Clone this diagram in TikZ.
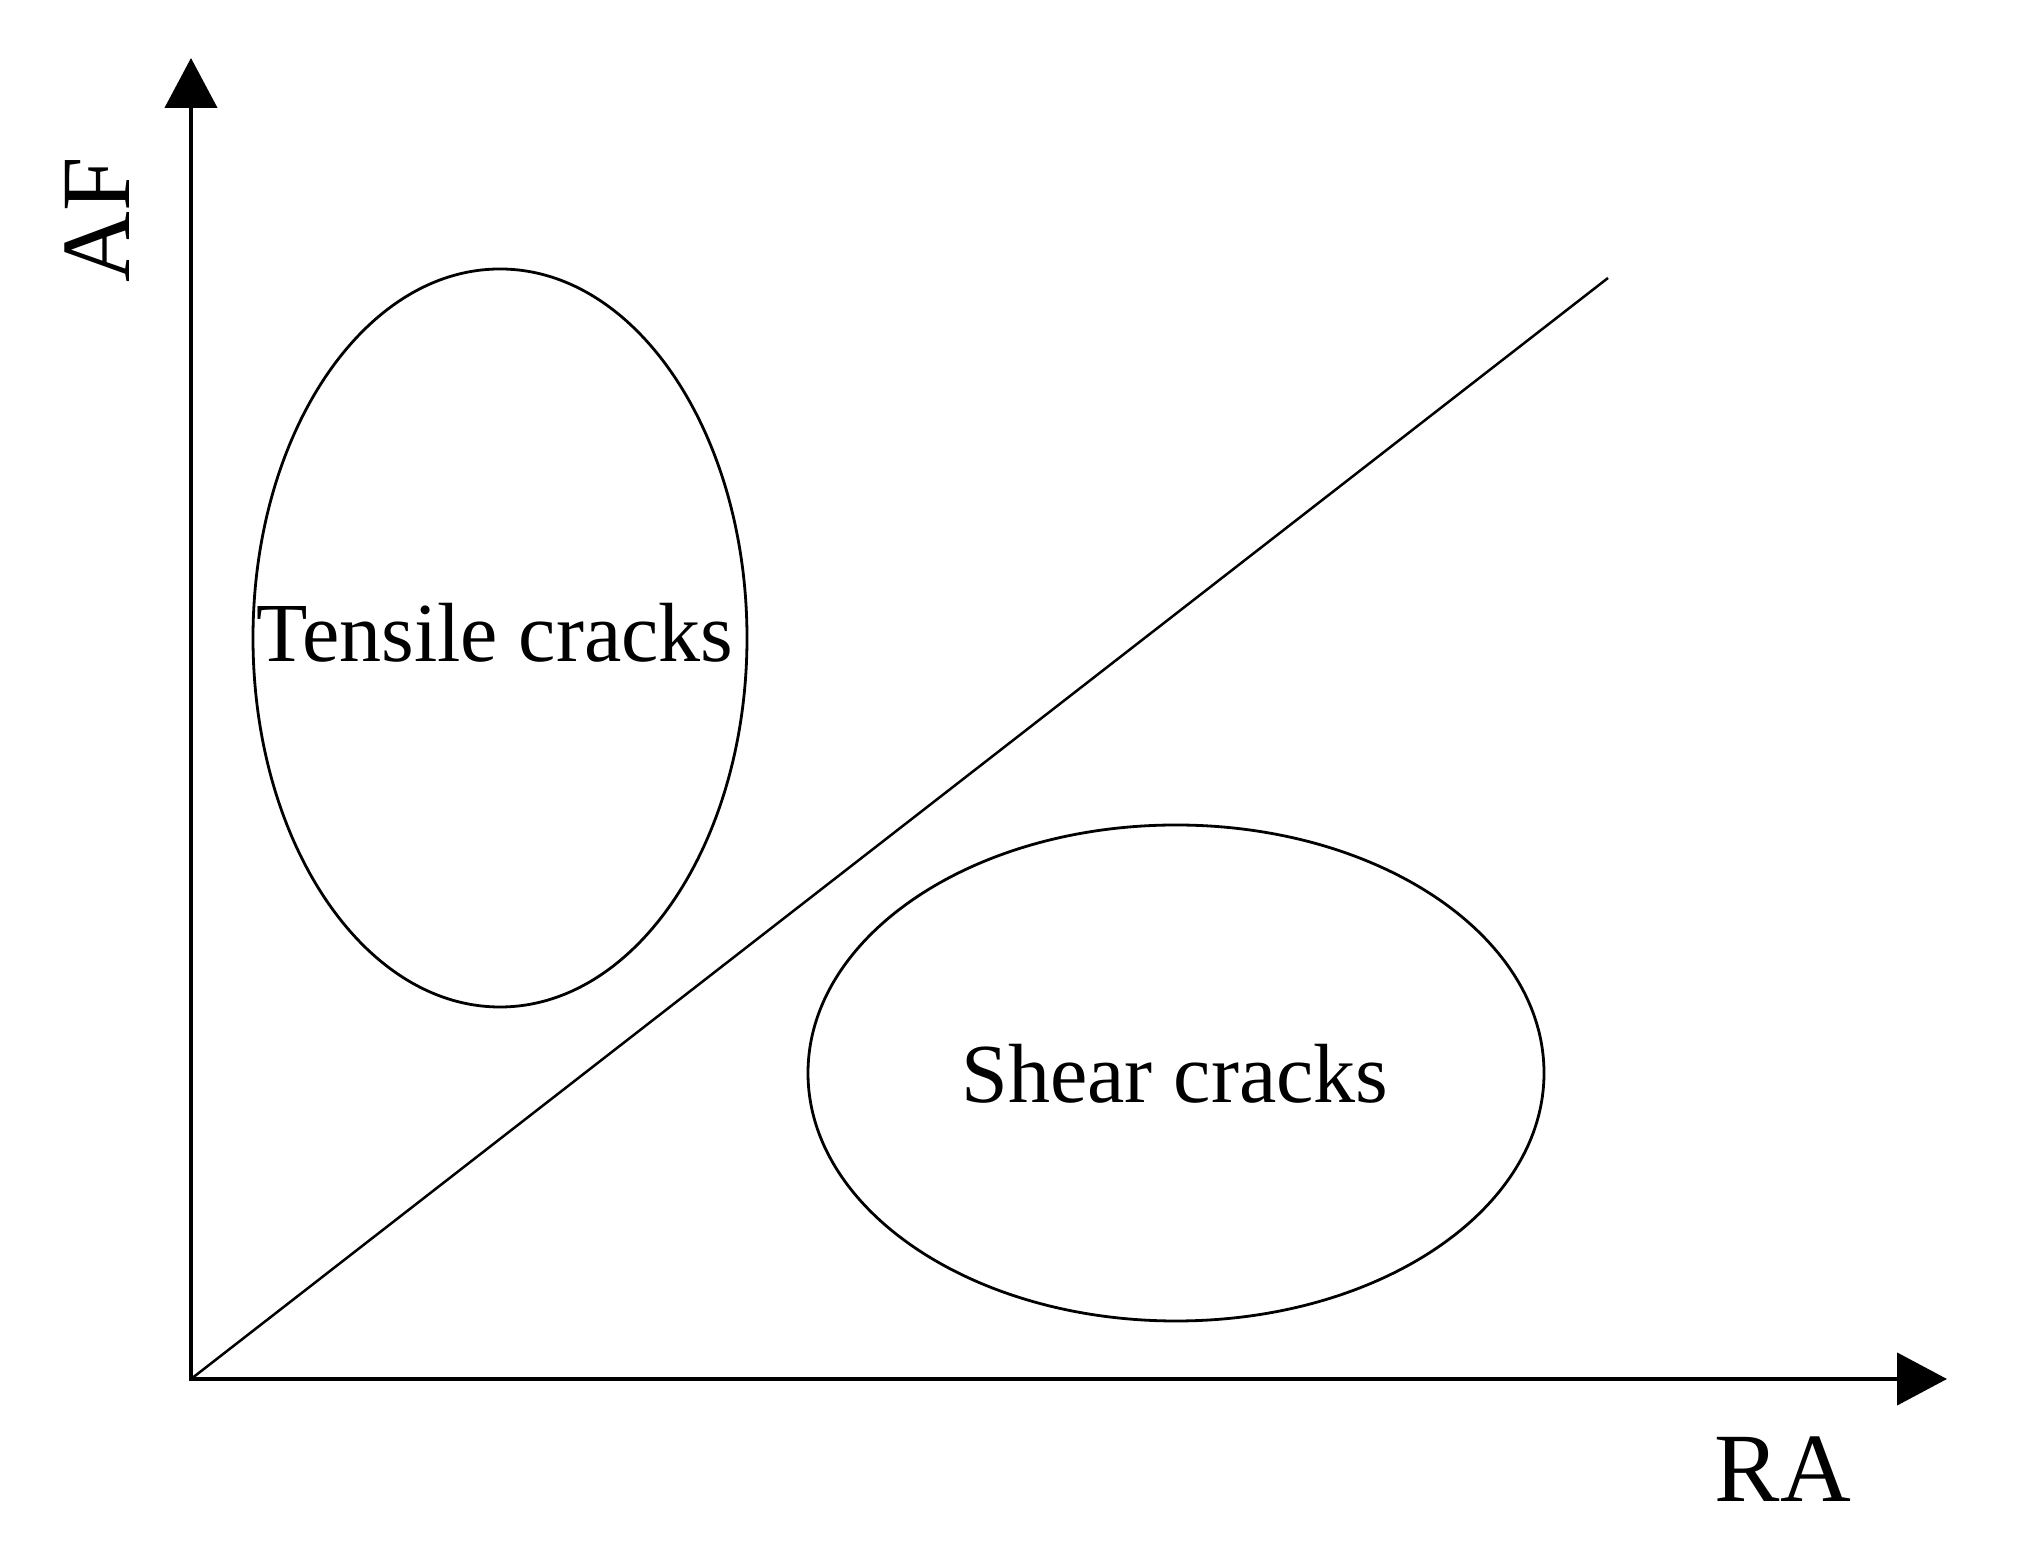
\documentclass[tikz,border=0pt]{standalone}
\usepackage{fontspec}
\setmainfont{Liberation Serif}
\usetikzlibrary{arrows.meta,shapes.geometric}
\begin{document}
\begin{tikzpicture}[x=0.5pt,y=0.5pt,
  axis/.style={line width=2.25pt, line join=miter,
    {Triangle[length=25pt,width=26pt]}-{Triangle[length=25pt,width=26pt]}},
  region/.style={draw, ellipse, line width=1.4pt, inner sep=0pt},
  divider/.style={line width=1.25pt},
  regionlabel/.style={font=\fontsize{42}{50}\selectfont, anchor=base, inner sep=0pt},
  axislabel/.style={font=\fontsize{49}{58}\selectfont, inner sep=0pt}]
\useasboundingbox (0,0) rectangle (2024,1568);
\coordinate (O) at (191,189);
\coordinate (ytip) at (191,1510);
\coordinate (xtip) at (1947,189);
\coordinate (D) at (1608,1290);
\draw[axis] (ytip) -- (O) -- (xtip);
\draw[divider] (O) -- (D);
\node[region, minimum width=247pt, minimum height=369pt] (tensile) at (500,930) {};
\node[region, minimum width=368pt, minimum height=248pt] (shear) at (1176,495) {};
\node[regionlabel] (tlabel) at (495,906) {Tensile cracks};
\node[regionlabel] (slabel) at (1175,465) {Shear cracks};
\node[axislabel, rotate=90] (af) at (97,1348) {AF};
\node[axislabel] (ra) at (1783,99) {RA};
\end{tikzpicture}
\end{document}
